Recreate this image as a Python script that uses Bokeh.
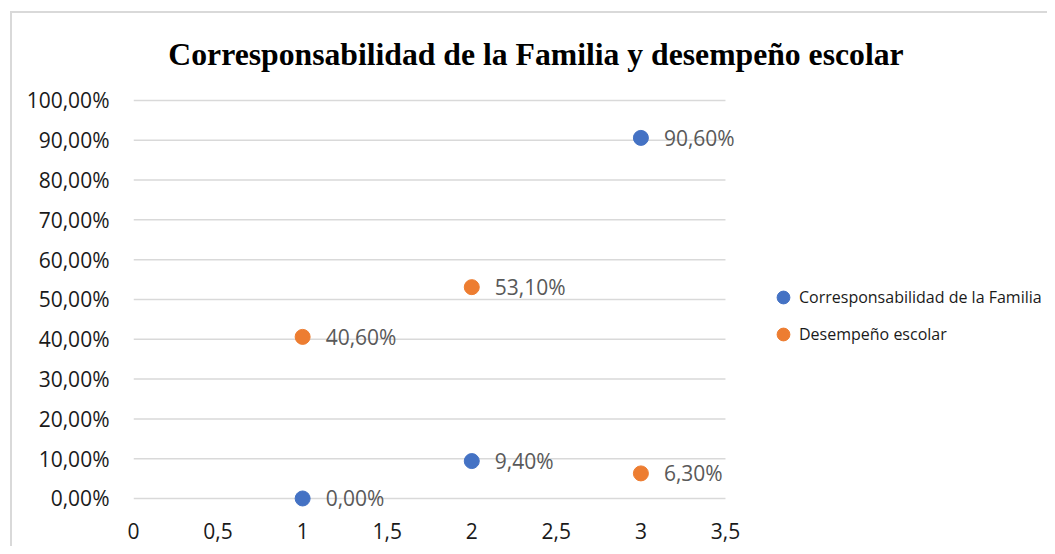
from bokeh.plotting import figure
from bokeh.models import (Range1d, Legend, LegendItem, ColumnDataSource, Label,
                          FixedTicker, CustomJSTickFormatter)
from bokeh.embed import file_html
from bokeh.resources import INLINE
from bokeh.core.properties import value

# ---- data ----
title_text = "Corresponsabilidad de la Familia y desempeño escolar"
series_names = ["Corresponsabilidad de la Familia", "Desempeño escolar"]
x_vals = [1, 2, 3]
corresp_vals = [0.0, 9.4, 90.6]
desemp_vals = [40.6, 53.1, 6.3]
x_ticks = [0, 0.5, 1, 1.5, 2, 2.5, 3, 3.5]
y_ticks = [0, 10, 20, 30, 40, 50, 60, 70, 80, 90, 100]

colors = ["#4472C4", "#ED7D31"]
FONT = "Open Sans"


def fmt(v):
    return ("%.2f" % v).replace(".", ",") + "%"


# frame spans the whole canvas right/top so the title and legend sit inside it;
# ranges keep 169.14 px per x unit and 3.98 px per y unit
p = figure(title=None, frame_width=914, frame_height=497,
           x_range=Range1d(0, 5.404), y_range=Range1d(-3.02, 121.85),
           output_backend="svg", toolbar_location=None,
           min_border_left=121, min_border_top=0,
           min_border_right=0, min_border_bottom=36,
           background_fill_color="white", border_fill_color="white")
p.outline_line_color = None
p.xgrid.visible = False
p.ygrid.visible = False
p.styles = {"border-left": "2px solid #D9D9D9", "border-top": "2px solid #D9D9D9",
            "margin-left": "10px", "margin-top": "11px"}

# gridlines
gsrc = ColumnDataSource(dict(y=y_ticks, x0=[x_ticks[0]] * len(y_ticks),
                             x1=[x_ticks[-1]] * len(y_ticks)))
p.segment(x0="x0", x1="x1", y0="y", y1="y", source=gsrc,
          line_color="#D9D9D9", line_width=1.5)

# axes
for ax in (p.xaxis[0], p.yaxis[0]):
    ax.axis_line_color = None
    ax.major_tick_line_color = None
    ax.minor_tick_line_color = None
    ax.major_tick_out = 0
    ax.major_tick_in = 0
    ax.minor_tick_out = 0
    ax.major_label_text_font = FONT
    ax.major_label_text_font_size = "21px"
    ax.major_label_text_color = "#1a1a1a"
p.xaxis.ticker = FixedTicker(ticks=x_ticks)
p.yaxis.ticker = FixedTicker(ticks=y_ticks)
p.xaxis.formatter = CustomJSTickFormatter(code="return tick.toString().replace('.', ',');")
p.yaxis.formatter = CustomJSTickFormatter(code="return tick.toFixed(2).replace('.', ',') + '%';")
p.xaxis.major_label_standoff = 12
p.yaxis.major_label_standoff = 24

items = []
for name, vals, col in zip(series_names, [corresp_vals, desemp_vals], colors):
    src = ColumnDataSource(dict(x=x_vals, y=vals, lab=[fmt(v) for v in vals]))
    r = p.scatter("x", "y", source=src, size=15, fill_color=col, line_color=col)
    p.text("x", "y", text="lab", source=src, x_offset=23, text_baseline="middle",
           text_align="left", text_font=value(FONT), text_font_size="21px",
           text_color="#595959")
    items.append(LegendItem(label=name, renderers=[r]))

legend = Legend(items=items, location=(634, 160), orientation="vertical",
                glyph_width=32, glyph_height=32, label_height=32,
                label_standoff=0, spacing=5, padding=0, margin=0,
                border_line_color=None, background_fill_alpha=0,
                label_text_font=FONT, label_text_font_size="16px",
                label_text_color="#1a1a1a")
p.add_layout(legend, "center")

title = Label(x=402.5, y=456, x_units="screen", y_units="screen", text=title_text,
              text_align="center", text_baseline="alphabetic",
              text_font="Liberation Serif", text_font_style="bold",
              text_font_size="31.7px", text_color="#000000")
p.add_layout(title)

open("out.html", "w").write(file_html(p, INLINE))
